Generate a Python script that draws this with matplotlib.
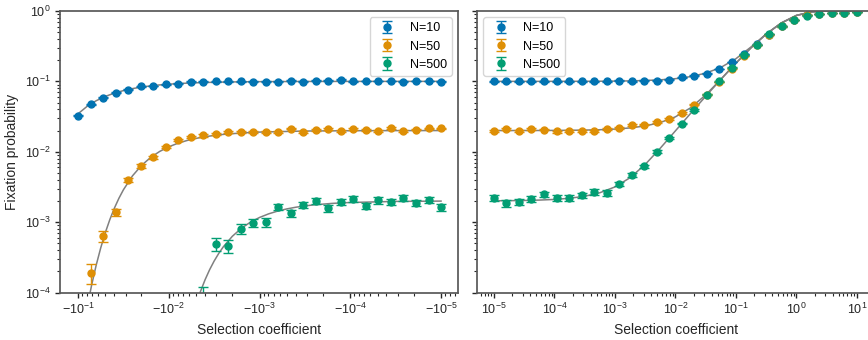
import numpy as np
import matplotlib
matplotlib.use("Agg")
import matplotlib.pyplot as plt

nan = float("nan")

# ---------------- data: negative selection (left panel) ----------------
s_neg = [-0.1, -0.07279, -0.05298, -0.03857, -0.02807, -0.02043, -0.01487, -0.01083,
         -0.007883, -0.005736, -0.004175, -0.003039, -0.002212, -0.00161, -0.001172,
         -0.0008532, -0.000621, -0.000452, -0.000329, -0.0002395, -0.0001743,
         -0.0001269, -9.237e-05, -6.723e-05, -4.894e-05, -3.562e-05, -2.593e-05,
         -1.887e-05, -1.374e-05, -1e-05]

neg_N10 = [0.0327, 0.0475, 0.0589, 0.0687, 0.0760, 0.0855, 0.0860, 0.0913, 0.0931, 0.0984,
           0.0984, 0.1000, 0.1000, 0.1000, 0.0995, 0.0995, 0.0995, 0.1025, 0.0995, 0.1025,
           0.1025, 0.1055, 0.1005, 0.1015, 0.1015, 0.1015, 0.0995, 0.1015, 0.1015, 0.0995]
neg_N10_err = [8.0e-4, 9.5e-4, 1.05e-3, 1.13e-3, 1.19e-3, 1.25e-3, 1.25e-3, 1.29e-3, 1.30e-3,
               1.33e-3, 1.33e-3, 1.34e-3, 1.34e-3, 1.34e-3, 1.34e-3, 1.34e-3, 1.34e-3, 1.36e-3,
               1.34e-3, 1.36e-3, 1.36e-3, 1.37e-3, 1.34e-3, 1.35e-3, 1.35e-3, 1.35e-3, 1.34e-3,
               1.35e-3, 1.35e-3, 1.34e-3]

neg_N50 = [nan, 1.92e-4, 6.37e-4, 1.377e-3, 3.97e-3, 6.27e-3, 8.41e-3, 0.01178, 0.01466, 0.01617,
           0.01703, 0.01782, 0.01902, 0.0190, 0.0190, 0.0190, 0.0190, 0.02138, 0.0190, 0.0205,
           0.0210, 0.01968, 0.0212, 0.0205, 0.0200, 0.0217, 0.0200, 0.0207, 0.0214, 0.0214]
neg_N50_err = [nan, 6e-5, 1.1e-4, 1.6e-4, 2.8e-4, 3.5e-4, 4.1e-4, 4.8e-4, 5.4e-4, 5.6e-4,
               5.8e-4, 5.9e-4, 6.1e-4, 6.1e-4, 6.1e-4, 6.1e-4, 6.1e-4, 6.5e-4, 6.1e-4, 6.3e-4,
               6.4e-4, 6.2e-4, 6.4e-4, 6.3e-4, 6.3e-4, 6.5e-4, 6.3e-4, 6.4e-4, 6.5e-4, 6.5e-4]

neg_N500 = [nan, nan, nan, nan, nan, nan, nan, nan, nan, nan,
            8.0e-5, 4.95e-4, 4.59e-4, 8.09e-4, 9.84e-4, 1.007e-3, 1.644e-3, 1.334e-3, 1.77e-3,
            2.02e-3, 1.59e-3, 1.95e-3, 2.15e-3, 1.70e-3, 2.04e-3, 1.94e-3, 2.20e-3, 1.89e-3,
            2.09e-3, 1.64e-3]
neg_N500_err = [nan, nan, nan, nan, nan, nan, nan, nan, nan, nan,
                4.0e-5, 1.0e-4, 9.6e-5, 1.27e-4, 1.4e-4, 1.42e-4, 1.8e-4, 1.63e-4, 1.88e-4,
                2.0e-4, 1.78e-4, 1.95e-4, 2.07e-4, 1.84e-4, 2.02e-4, 1.97e-4, 2.1e-4, 1.94e-4,
                2.04e-4, 1.81e-4]

# theory curves (left)
curve_neg_s_N10 = [-0.1, -0.07943, -0.0631, -0.05012, -0.03981, -0.03162, -0.02512, -0.01995,
                   -0.01585, -0.01259, -0.01, -0.00631, -0.003981, -0.002512, -0.001585, -0.001,
                   -0.0003162, -0.0001, -3.162e-05, -1e-05]
curve_neg_N10 = [0.03465, 0.04419, 0.05311, 0.06113, 0.06809, 0.07400, 0.07894, 0.08301,
                 0.08635, 0.08906, 0.09123, 0.09441, 0.09646, 0.09775, 0.09858, 0.0991,
                 0.09971, 0.09991, 0.09997, 0.09999]

curve_neg_s_N50 = [-0.1, -0.07943, -0.07079, -0.0631, -0.05623, -0.05012, -0.04467, -0.03981,
                   -0.03548, -0.03162, -0.02512, -0.01995, -0.01585, -0.01259, -0.01, -0.007943,
                   -0.00631, -0.005012, -0.003981, -0.003162, -0.002512, -0.001585, -0.001,
                   -0.0003162, -0.0001, -3.162e-05, -1e-05]
curve_neg_N50 = [1.005e-5, 6.117e-5, 1.283e-4, 2.450e-4, 4.317e-4, 7.066e-4, 1.0853e-3, 1.577e-3,
                 2.179e-3, 2.886e-3, 4.548e-3, 6.409e-3, 8.303e-3, 0.01011, 0.01176, 0.0132,
                 0.01444, 0.01548, 0.01635, 0.01706, 0.01764, 0.01848, 0.01903, 0.01969,
                 0.0199, 0.01997, 0.0200]

curve_neg_s_N500 = [-0.005623, -0.005012, -0.004467, -0.003981, -0.003548, -0.003162, -0.002818,
                    -0.002512, -0.001995, -0.001585, -0.001259, -0.001, -0.0007943, -0.000631,
                    -0.0005012, -0.0003981, -0.0003162, -0.0002512, -0.0001585, -0.0001,
                    -3.162e-05, -1e-05]
curve_neg_N500 = [4.10e-5, 6.75e-5, 1.042e-4, 1.521e-4, 2.111e-4, 2.805e-4, 3.590e-4, 4.445e-4,
                  6.29e-4, 8.185e-4, 9.99e-4, 1.1652e-3, 1.3106e-3, 1.4354e-3, 1.5407e-3,
                  1.6284e-3, 1.7005e-3, 1.7594e-3, 1.8456e-3, 1.9016e-3, 1.9686e-3, 1.99e-3]

# ---------------- data: positive selection (right panel) ----------------
s_pos = [1e-05, 1.610e-05, 2.593e-05, 4.175e-05, 6.723e-05, 1.083e-04, 1.743e-04, 2.807e-04,
         4.520e-04, 7.279e-04, 1.172e-03, 1.887e-03, 3.039e-03, 4.894e-03, 7.880e-03, 1.269e-02,
         2.043e-02, 3.290e-02, 5.298e-02, 8.532e-02, 0.1374, 0.2212, 0.3562, 0.5736, 0.9237,
         1.487, 2.395, 3.857, 6.210, 10.0]

pos_N10 = [0.100, 0.100, 0.100, 0.100, 0.100, 0.100, 0.100, 0.100, 0.100, 0.100,
           0.1023, 0.100, 0.1023, 0.1023, 0.1057, 0.1140, 0.1205, 0.1286, 0.150, 0.1884,
           0.2448, 0.335, 0.462, 0.605, 0.750, 0.865, 0.912, 0.933, 0.950, 0.970]
pos_N10_err = [1.34e-3] * 14 + [1.37e-3, 1.42e-3, 1.46e-3, 1.5e-3, 1.6e-3, 1.75e-3, 1.92e-3,
                                2.1e-3, 2.23e-3, 2.19e-3, 1.94e-3, 1.53e-3, 1.27e-3, 1.12e-3,
                                9.7e-4, 7.6e-4]

pos_N50 = [0.0200, 0.0209, 0.0198, 0.0211, 0.0207, 0.0194, 0.0200, 0.0200, 0.0196, 0.0209,
           0.0218, 0.0238, 0.0243, 0.0262, 0.0290, 0.0357, 0.0468, 0.0647, 0.098, 0.152,
           0.230, 0.330, 0.462, 0.603, 0.748, 0.865, 0.912, 0.933, 0.950, 0.970]
pos_N50_err = [6.3e-4] * 10 + [6.5e-4, 6.8e-4, 6.9e-4, 7.1e-4, 7.5e-4, 8.3e-4, 9.4e-4, 1.1e-3,
                               1.33e-3, 1.6e-3, 1.88e-3, 2.1e-3, 2.23e-3, 2.19e-3, 1.94e-3,
                               1.53e-3, 1.27e-3, 1.12e-3, 9.7e-4, 7.6e-4]

pos_N500 = [2.19e-3, 1.86e-3, 1.92e-3, 2.11e-3, 2.47e-3, 2.20e-3, 2.20e-3, 2.39e-3, 2.68e-3,
            2.61e-3, 3.47e-3, 4.75e-3, 6.23e-3, 0.0100, 0.0155, 0.0251, 0.0394, 0.0641, 0.100,
            0.156, 0.236, 0.332, 0.468, 0.603, 0.743, 0.863, 0.912, 0.935, 0.952, 0.970]
pos_N500_err = [2.1e-4, 1.93e-4, 1.96e-4, 2.05e-4, 2.2e-4, 2.1e-4, 2.1e-4, 2.2e-4, 2.3e-4,
                2.3e-4, 2.6e-4, 3.1e-4, 3.5e-4, 4.45e-4, 5.5e-4, 7.0e-4, 8.7e-4, 1.1e-3, 1.34e-3,
                1.62e-3, 1.9e-3, 2.1e-3, 2.23e-3, 2.19e-3, 1.94e-3, 1.53e-3, 1.27e-3, 1.12e-3,
                9.7e-4, 7.6e-4]

# theory curves (right)
curve_pos_s = [1e-05, 1.778e-05, 3.162e-05, 5.623e-05, 1e-04, 1.778e-04, 3.162e-04, 5.623e-04,
               1e-03, 1.778e-03, 3.162e-03, 5.623e-03, 0.01, 0.01778, 0.03162, 0.05623, 0.1,
               0.1778, 0.3162, 0.5623, 1.0, 1.778, 3.162, 5.623, 10.0]
curve_pos_N10 = [0.10001, 0.100016, 0.100028, 0.100051, 0.10009, 0.10016, 0.100285, 0.100507,
                 0.100902, 0.101608, 0.102867, 0.105143, 0.109237, 0.116746, 0.130739, 0.157519,
                 0.209641, 0.30804, 0.46931, 0.67522, 0.86466, 0.97145, 0.9982, 0.99999, 1.0]
curve_pos_N50 = [0.0200098, 0.0200174, 0.020031, 0.0200552, 0.0200981, 0.0201747, 0.0203114,
                 0.020556, 0.0209957, 0.0217919, 0.02325, 0.026002, 0.031325, 0.042041,
                 0.063992, 0.106745, 0.181278, 0.29924, 0.468787, 0.675264, 0.864664, 0.97158,
                 0.9982, 0.99999, 1.0]
curve_pos_N500 = [0.00201, 0.0020178, 0.0020317, 0.0020566, 0.0021015, 0.0021827, 0.0023316,
                  0.0026134, 0.0031608, 0.0042718, 0.0065827, 0.0112235, 0.0198023, 0.0349352,
                  0.0612886, 0.106367, 0.181269, 0.29929, 0.46879, 0.67526, 0.864665, 0.97149,
                  0.9982, 0.99999, 1.0]

labels = ["N=10", "N=50", "N=500"]
colors = ["#0173B2", "#DE8F05", "#029E73"]

# ---------------- style ----------------
plt.rcParams["font.family"] = ["Liberation Sans", "DejaVu Sans"]
plt.rcParams["axes.edgecolor"] = "0.35"
plt.rcParams["axes.linewidth"] = 1.25
plt.rcParams["xtick.color"] = "0.15"
plt.rcParams["ytick.color"] = "0.15"
plt.rcParams["xtick.labelsize"] = 9
plt.rcParams["ytick.labelsize"] = 9
plt.rcParams["axes.labelsize"] = 10
plt.rcParams["axes.labelcolor"] = "0.15"
plt.rcParams["legend.fontsize"] = 9

fig = plt.figure(figsize=(8.68, 3.40), dpi=100)
H = 340.0
W = 868.0
ax1 = fig.add_axes([60 / W, 47.5 / H, 398 / W, 281.5 / H])
ax2 = fig.add_axes([477 / W, 47.5 / H, 398 / W, 281.5 / H], sharey=ax1)

neg_series = [(neg_N10, neg_N10_err), (neg_N50, neg_N50_err), (neg_N500, neg_N500_err)]
neg_curves = [(curve_neg_s_N10, curve_neg_N10), (curve_neg_s_N50, curve_neg_N50),
              (curve_neg_s_N500, curve_neg_N500)]
pos_series = [(pos_N10, pos_N10_err), (pos_N50, pos_N50_err), (pos_N500, pos_N500_err)]
pos_curves = [curve_pos_N10, curve_pos_N50, curve_pos_N500]

for (yv, ye), (cx, cy), c, lab in zip(neg_series, neg_curves, colors, labels):
    ax1.plot(cx, cy, color="gray", lw=1.1, zorder=1)
    ax1.errorbar(s_neg, yv, yerr=ye, fmt="o", color=c, ms=5, capsize=3.5,
                 elinewidth=1, capthick=1, label=lab, zorder=2)

for (yv, ye), cy, c, lab in zip(pos_series, pos_curves, colors, labels):
    ax2.plot(curve_pos_s, cy, color="gray", lw=1.1, zorder=1)
    ax2.errorbar(s_pos, yv, yerr=ye, fmt="o", color=c, ms=5, capsize=3.5,
                 elinewidth=1, capthick=1, label=lab, zorder=2)

ax1.set_xscale("symlog", linthresh=1e-7, subs=[2, 3, 4, 5, 6, 7, 8, 9])
ax1.set_yscale("log")
ax1.set_xlim(-10 ** -0.801, -10 ** -5.187)
ax1.set_ylim(1e-4, 1)

ax2.set_xscale("log")
ax2.set_xlim(10 ** -5.28, 10 ** 1.3)
ax2.tick_params(labelleft=False)

for ax in (ax1, ax2):
    ax.set_xlabel("Selection coefficient")
    ax.tick_params(which="major", length=3.5, width=1.0, direction="out")
    ax.tick_params(which="minor", length=2.0, width=0.8, direction="out")
ax1.set_ylabel("Fixation probability")

ax1.legend(loc="upper right")
ax2.legend(loc="upper left")

fig.savefig("out.png", dpi=100)
